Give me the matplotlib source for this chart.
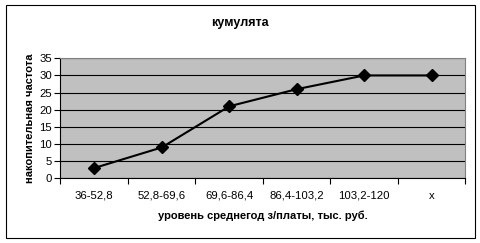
import matplotlib
matplotlib.use('Agg')
import matplotlib.pyplot as plt
import numpy as np
from matplotlib.patches import Rectangle

categories = ['36-52,8', '52,8-69,6', '69,6-86,4', '86,4-103,2', '103,2-120', 'x']
values = [3, 9, 21, 26, 30, 30]

plt.rcParams['font.family'] = ['Liberation Sans', 'DejaVu Sans']

fig = plt.figure(figsize=(4.81, 2.43), dpi=100)
fig.patches.append(Rectangle((5.5 / 481, 5.5 / 243), 470 / 481, 232 / 243,
                             transform=fig.transFigure, fill=False,
                             edgecolor='black', linewidth=0.8))

ax = fig.add_axes([60.5 / 481, (243 - 178.3) / 243, 405 / 481, 120 / 243])
ax.set_facecolor('#C0C0C0')
x = np.arange(len(categories))
ax.plot(x, values, color='black', linewidth=1.5, marker='D', markersize=6.5)

ax.set_xlim(-0.5, len(categories) - 0.5)
ax.set_ylim(0, 35)
ax.set_yticks(range(0, 36, 5))
ax.set_xticks(x)
ax.set_xticklabels(categories)
ax.set_xticks(np.arange(-0.5, len(categories)), minor=True)
ax.tick_params(axis='x', which='major', length=0, pad=9, labelsize=8.2)
ax.tick_params(axis='x', which='minor', length=4, width=0.8, direction='out')
ax.tick_params(axis='y', length=4, width=0.8, labelsize=8.2, pad=2)
ax.grid(axis='y', color='black', linewidth=0.8)
ax.set_axisbelow(True)
for side in ['top', 'right']:
    ax.spines[side].set_color('#808080')
for side in ['left', 'bottom']:
    ax.spines[side].set_color('black')
    ax.spines[side].set_linewidth(0.8)

# title is centred on the whole chart, not on the plot area
fig.text(240 / 481, 1 - 23 / 243, 'кумулята', fontsize=9, fontweight='bold',
         ha='center', va='center')
ax.set_xlabel('уровень среднегод з/платы, тыс. руб.', fontsize=8, fontweight='bold', labelpad=7)
ax.set_ylabel('накопительная частота', fontsize=8, fontweight='bold', labelpad=3)

fig.savefig('out.png', dpi=100)
